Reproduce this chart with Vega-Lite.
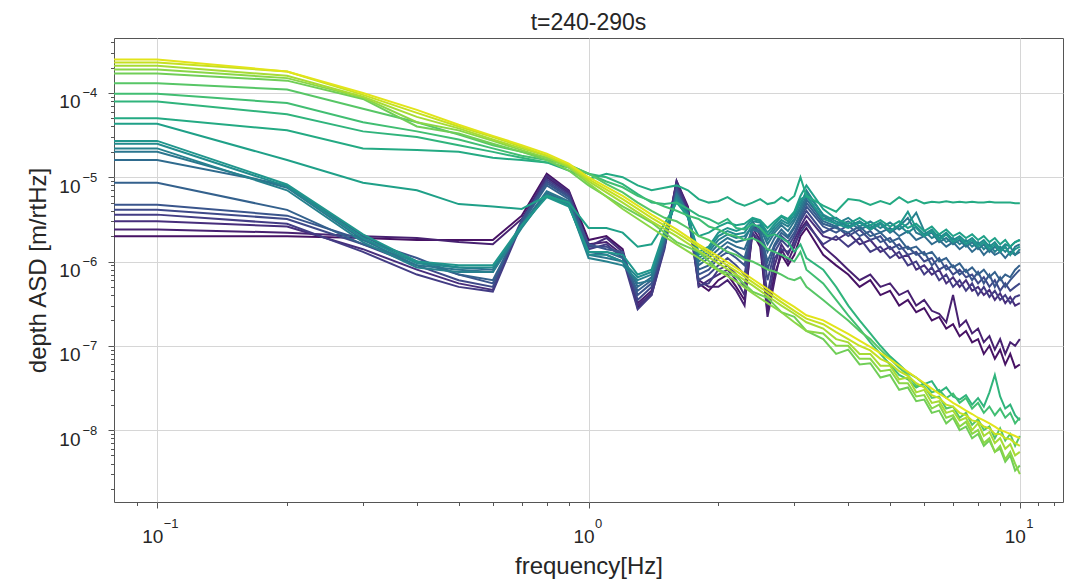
{
"$schema": "https://vega.github.io/schema/vega-lite/v6.json",
"width": 949,
"height": 464,
"autosize": {"type": "none"},
"padding": {"left": 114, "top": 38, "right": 14, "bottom": 84},
"background": "white",
"title": {"text": "t=240-290s", "fontSize": 23, "fontWeight": "normal", "font": "Liberation Sans", "color": "#262626", "offset": -15, "baseline": "alphabetic"},
"config": {"view": {"stroke": "#555555", "strokeWidth": 1}, "font": "Liberation Sans"},
"data": {"values": [
{"s":0,"f":0.0794,"v":2e-6},{"s":0,"f":0.1,"v":2e-6},{"s":0,"f":0.2,"v":2e-6},{"s":0,"f":0.3,"v":1.9e-6},{"s":0,"f":0.4,"v":1.8e-6},{"s":0,"f":0.5,"v":1.8e-6},{"s":0,"f":0.6,"v":1.8e-6},{"s":0,"f":0.7,"v":3.5e-6},{"s":0,"f":0.8,"v":1.1e-5},{"s":0,"f":0.9,"v":7e-6},{"s":0,"f":1,"v":1.8e-6},
{"s":0,"f":1.1,"v":2e-6},{"s":0,"f":1.2,"v":1.4e-6},{"s":0,"f":1.3,"v":2.8e-7},{"s":0,"f":1.4,"v":4e-7},{"s":0,"f":1.5,"v":1.5e-6},{"s":0,"f":1.6,"v":9e-6},{"s":0,"f":1.7,"v":4.5e-6},{"s":0,"f":1.8,"v":5.5e-7},{"s":0,"f":1.9,"v":4.5e-7},{"s":0,"f":2,"v":6e-7},{"s":0,"f":2.1,"v":7e-7},{"s":0,"f":2.2,"v":5e-7},{"s":0,"f":2.3,"v":3.5e-7},{"s":0,"f":2.4,"v":2.2e-6},{"s":0,"f":2.5,"v":1.5e-6},{"s":0,"f":2.6,"v":2.5e-7},{"s":0,"f":2.7,"v":7e-7},{"s":0,"f":2.8,"v":1.2e-6},{"s":0,"f":2.9,"v":9e-7},{"s":0,"f":3,"v":1.2e-6},{"s":0,"f":3.1,"v":2e-6},{"s":0,"f":3.2,"v":2.5e-6},
{"s":0,"f":3.5,"v":1.2e-6},{"s":0,"f":3.75,"v":9e-7},{"s":0,"f":4,"v":7e-7},{"s":0,"f":4.25,"v":5e-7},{"s":0,"f":4.5,"v":6e-7},{"s":0,"f":4.75,"v":4e-7},{"s":0,"f":5,"v":4.5e-7},{"s":0,"f":5.25,"v":3e-7},{"s":0,"f":5.5,"v":3.5e-7},{"s":0,"f":5.75,"v":2.5e-7},{"s":0,"f":6,"v":2.8e-7},{"s":0,"f":6.25,"v":2e-7},{"s":0,"f":6.5,"v":2.2e-7},{"s":0,"f":6.75,"v":1.6e-7},{"s":0,"f":7,"v":1.8e-7},{"s":0,"f":7.25,"v":1.3e-7},{"s":0,"f":7.5,"v":1.5e-7},{"s":0,"f":7.75,"v":1.1e-7},{"s":0,"f":8,"v":1.2e-7},{"s":0,"f":8.25,"v":8e-8},{"s":0,"f":8.5,"v":1e-7},{"s":0,"f":8.75,"v":7e-8},{"s":0,"f":9,"v":9e-8},{"s":0,"f":9.25,"v":6e-8},{"s":0,"f":9.5,"v":8e-8},{"s":0,"f":9.75,"v":5.5e-8},{"s":0,"f":10,"v":6e-8},

{"s":1,"f":0.0794,"v":2.4e-6},{"s":1,"f":0.1,"v":2.4e-6},{"s":1,"f":0.2,"v":2.2e-6},{"s":1,"f":0.3,"v":2e-6},{"s":1,"f":0.4,"v":1.9e-6},{"s":1,"f":0.5,"v":1.7e-6},{"s":1,"f":0.6,"v":1.6e-6},{"s":1,"f":0.7,"v":3.2e-6},{"s":1,"f":0.8,"v":1e-5},{"s":1,"f":0.9,"v":6.5e-6},{"s":1,"f":1,"v":1.6e-6},
{"s":1,"f":1.1,"v":1.7e-6},{"s":1,"f":1.2,"v":1.2e-6},{"s":1,"f":1.3,"v":3.2e-7},{"s":1,"f":1.4,"v":4.5e-7},{"s":1,"f":1.5,"v":1.7e-6},{"s":1,"f":1.6,"v":8.5e-6},{"s":1,"f":1.7,"v":4e-6},{"s":1,"f":1.8,"v":6e-7},{"s":1,"f":1.9,"v":5e-7},{"s":1,"f":2,"v":5e-7},{"s":1,"f":2.1,"v":6e-7},{"s":1,"f":2.2,"v":4.5e-7},{"s":1,"f":2.3,"v":3e-7},{"s":1,"f":2.4,"v":2.5e-6},{"s":1,"f":2.5,"v":1.8e-6},{"s":1,"f":2.6,"v":2.2e-7},{"s":1,"f":2.7,"v":6e-7},{"s":1,"f":2.8,"v":1.4e-6},{"s":1,"f":2.9,"v":1e-6},{"s":1,"f":3,"v":1.5e-6},{"s":1,"f":3.1,"v":2.4e-6},{"s":1,"f":3.2,"v":3e-6},
{"s":1,"f":3.5,"v":1.5e-6},{"s":1,"f":3.75,"v":1.1e-6},{"s":1,"f":4,"v":8e-7},{"s":1,"f":4.25,"v":6e-7},{"s":1,"f":4.5,"v":7e-7},{"s":1,"f":4.75,"v":5e-7},{"s":1,"f":5,"v":5.5e-7},{"s":1,"f":5.25,"v":4e-7},{"s":1,"f":5.5,"v":4.5e-7},{"s":1,"f":5.75,"v":3e-7},{"s":1,"f":6,"v":3.5e-7},{"s":1,"f":6.25,"v":2.6e-7},{"s":1,"f":6.5,"v":2.4e-7},{"s":1,"f":6.75,"v":1.9e-7},{"s":1,"f":7,"v":4e-7},{"s":1,"f":7.25,"v":1.7e-7},{"s":1,"f":7.5,"v":2e-7},{"s":1,"f":7.75,"v":1.4e-7},{"s":1,"f":8,"v":1.6e-7},{"s":1,"f":8.25,"v":1.1e-7},{"s":1,"f":8.5,"v":1.3e-7},{"s":1,"f":8.75,"v":9e-8},{"s":1,"f":9,"v":1.2e-7},{"s":1,"f":9.25,"v":8e-8},{"s":1,"f":9.5,"v":1.1e-7},{"s":1,"f":9.75,"v":1e-7},{"s":1,"f":10,"v":1.2e-7},

{"s":2,"f":0.0794,"v":3e-6},{"s":2,"f":0.1,"v":3e-6},{"s":2,"f":0.2,"v":2.6e-6},{"s":2,"f":0.3,"v":1.4e-6},{"s":2,"f":0.4,"v":8e-7},{"s":2,"f":0.5,"v":5.5e-7},{"s":2,"f":0.6,"v":4.6e-7},{"s":2,"f":0.7,"v":3e-6},{"s":2,"f":0.8,"v":1.05e-5},{"s":2,"f":0.9,"v":6.8e-6},{"s":2,"f":1,"v":1.5e-6},
{"s":2,"f":1.1,"v":1.9e-6},{"s":2,"f":1.2,"v":1.3e-6},{"s":2,"f":1.3,"v":3e-7},{"s":2,"f":1.4,"v":4.2e-7},{"s":2,"f":1.5,"v":1.6e-6},{"s":2,"f":1.6,"v":9e-6},{"s":2,"f":1.7,"v":4.2e-6},{"s":2,"f":1.8,"v":5e-7},{"s":2,"f":1.9,"v":6e-7},{"s":2,"f":2,"v":7e-7},{"s":2,"f":2.1,"v":8e-7},{"s":2,"f":2.2,"v":6e-7},{"s":2,"f":2.3,"v":4e-7},{"s":2,"f":2.4,"v":3e-6},{"s":2,"f":2.5,"v":2e-6},{"s":2,"f":2.6,"v":3e-7},{"s":2,"f":2.7,"v":9e-7},{"s":2,"f":2.8,"v":1.6e-6},{"s":2,"f":2.9,"v":1.2e-6},{"s":2,"f":3,"v":1.8e-6},{"s":2,"f":3.1,"v":2.6e-6},{"s":2,"f":3.2,"v":3.5e-6},
{"s":2,"f":3.5,"v":2e-6},{"s":2,"f":3.75,"v":1.8e-6},{"s":2,"f":4,"v":2.2e-6},{"s":2,"f":4.25,"v":1.6e-6},{"s":2,"f":4.5,"v":1.8e-6},{"s":2,"f":4.75,"v":1.3e-6},{"s":2,"f":5,"v":1.5e-6},{"s":2,"f":5.25,"v":1.1e-6},{"s":2,"f":5.5,"v":1.2e-6},{"s":2,"f":5.75,"v":8e-7},{"s":2,"f":6,"v":9e-7},{"s":2,"f":6.25,"v":7e-7},{"s":2,"f":6.5,"v":8e-7},{"s":2,"f":6.75,"v":5.5e-7},{"s":2,"f":7,"v":6.5e-7},{"s":2,"f":7.25,"v":5e-7},{"s":2,"f":7.5,"v":6e-7},{"s":2,"f":7.75,"v":4.5e-7},{"s":2,"f":8,"v":5e-7},{"s":2,"f":8.25,"v":4e-7},{"s":2,"f":8.5,"v":4.6e-7},{"s":2,"f":8.75,"v":3.5e-7},{"s":2,"f":9,"v":4.2e-7},{"s":2,"f":9.25,"v":3.2e-7},{"s":2,"f":9.5,"v":3.8e-7},{"s":2,"f":9.75,"v":3e-7},{"s":2,"f":10,"v":3.2e-7},

{"s":3,"f":0.0794,"v":3.6e-6},{"s":3,"f":0.1,"v":3.6e-6},{"s":3,"f":0.2,"v":2.8e-6},{"s":3,"f":0.3,"v":1.3e-6},{"s":3,"f":0.4,"v":7e-7},{"s":3,"f":0.5,"v":5e-7},{"s":3,"f":0.6,"v":4.4e-7},{"s":3,"f":0.7,"v":2.8e-6},{"s":3,"f":0.8,"v":9.5e-6},{"s":3,"f":0.9,"v":6.3e-6},{"s":3,"f":1,"v":1.4e-6},
{"s":3,"f":1.1,"v":1.6e-6},{"s":3,"f":1.2,"v":1.1e-6},{"s":3,"f":1.3,"v":2.7e-7},{"s":3,"f":1.4,"v":4e-7},{"s":3,"f":1.5,"v":1.4e-6},{"s":3,"f":1.6,"v":8e-6},{"s":3,"f":1.7,"v":3.8e-6},{"s":3,"f":1.8,"v":5.2e-7},{"s":3,"f":1.9,"v":5.5e-7},{"s":3,"f":2,"v":8e-7},{"s":3,"f":2.1,"v":9e-7},{"s":3,"f":2.2,"v":7e-7},{"s":3,"f":2.3,"v":5e-7},{"s":3,"f":2.4,"v":2.2e-6},{"s":3,"f":2.5,"v":1.7e-6},{"s":3,"f":2.6,"v":4e-7},{"s":3,"f":2.7,"v":1.1e-6},{"s":3,"f":2.8,"v":1.4e-6},{"s":3,"f":2.9,"v":1.3e-6},{"s":3,"f":3,"v":1.6e-6},{"s":3,"f":3.1,"v":2.2e-6},{"s":3,"f":3.2,"v":2.8e-6},
{"s":3,"f":3.5,"v":1.6e-6},{"s":3,"f":3.75,"v":2e-6},{"s":3,"f":4,"v":1.5e-6},{"s":3,"f":4.25,"v":1.9e-6},{"s":3,"f":4.5,"v":1.3e-6},{"s":3,"f":4.75,"v":1.5e-6},{"s":3,"f":5,"v":1.1e-6},{"s":3,"f":5.25,"v":1.3e-6},{"s":3,"f":5.5,"v":9e-7},{"s":3,"f":5.75,"v":1e-6},{"s":3,"f":6,"v":7e-7},{"s":3,"f":6.25,"v":8.5e-7},{"s":3,"f":6.5,"v":6e-7},{"s":3,"f":6.75,"v":7e-7},{"s":3,"f":7,"v":5e-7},{"s":3,"f":7.25,"v":6e-7},{"s":3,"f":7.5,"v":4.5e-7},{"s":3,"f":7.75,"v":5.5e-7},{"s":3,"f":8,"v":4e-7},{"s":3,"f":8.25,"v":5e-7},{"s":3,"f":8.5,"v":3.8e-7},{"s":3,"f":8.75,"v":4.5e-7},{"s":3,"f":9,"v":3.5e-7},{"s":3,"f":9.25,"v":4e-7},{"s":3,"f":9.5,"v":3.2e-7},{"s":3,"f":9.75,"v":3.8e-7},{"s":3,"f":10,"v":4e-7},

{"s":4,"f":0.0794,"v":4.1e-6},{"s":4,"f":0.1,"v":4.1e-6},{"s":4,"f":0.2,"v":3.2e-6},{"s":4,"f":0.3,"v":1.6e-6},{"s":4,"f":0.4,"v":9e-7},{"s":4,"f":0.5,"v":6e-7},{"s":4,"f":0.6,"v":5e-7},{"s":4,"f":0.7,"v":3e-6},{"s":4,"f":0.8,"v":9e-6},{"s":4,"f":0.9,"v":6e-6},{"s":4,"f":1,"v":1.5e-6},
{"s":4,"f":1.1,"v":1.5e-6},{"s":4,"f":1.2,"v":1.2e-6},{"s":4,"f":1.3,"v":3.5e-7},{"s":4,"f":1.4,"v":5e-7},{"s":4,"f":1.5,"v":1.5e-6},{"s":4,"f":1.6,"v":7.5e-6},{"s":4,"f":1.7,"v":3.5e-6},{"s":4,"f":1.8,"v":6e-7},{"s":4,"f":1.9,"v":7e-7},{"s":4,"f":2,"v":9e-7},{"s":4,"f":2.1,"v":1.1e-6},{"s":4,"f":2.2,"v":9e-7},{"s":4,"f":2.3,"v":7e-7},{"s":4,"f":2.4,"v":2.6e-6},{"s":4,"f":2.5,"v":2.2e-6},{"s":4,"f":2.6,"v":6e-7},{"s":4,"f":2.7,"v":1.3e-6},{"s":4,"f":2.8,"v":1.8e-6},{"s":4,"f":2.9,"v":1.5e-6},{"s":4,"f":3,"v":2e-6},{"s":4,"f":3.1,"v":3e-6},{"s":4,"f":3.2,"v":4e-6},
{"s":4,"f":3.5,"v":2.2e-6},{"s":4,"f":3.75,"v":2.6e-6},{"s":4,"f":4,"v":2e-6},{"s":4,"f":4.25,"v":2.4e-6},{"s":4,"f":4.5,"v":1.8e-6},{"s":4,"f":4.75,"v":2e-6},{"s":4,"f":5,"v":1.4e-6},{"s":4,"f":5.25,"v":1.6e-6},{"s":4,"f":5.5,"v":1.2e-6},{"s":4,"f":5.75,"v":1.3e-6},{"s":4,"f":6,"v":1e-6},{"s":4,"f":6.25,"v":1.1e-6},{"s":4,"f":6.5,"v":8e-7},{"s":4,"f":6.75,"v":9e-7},{"s":4,"f":7,"v":7e-7},{"s":4,"f":7.25,"v":8e-7},{"s":4,"f":7.5,"v":6.5e-7},{"s":4,"f":7.75,"v":7e-7},{"s":4,"f":8,"v":5.5e-7},{"s":4,"f":8.25,"v":6.5e-7},{"s":4,"f":8.5,"v":5e-7},{"s":4,"f":8.75,"v":6e-7},{"s":4,"f":9,"v":4.5e-7},{"s":4,"f":9.25,"v":5.5e-7},{"s":4,"f":9.5,"v":4.5e-7},{"s":4,"f":9.75,"v":5e-7},{"s":4,"f":10,"v":5.5e-7},

{"s":5,"f":0.0794,"v":4.7e-6},{"s":5,"f":0.1,"v":4.7e-6},{"s":5,"f":0.2,"v":3.5e-6},{"s":5,"f":0.3,"v":1.8e-6},{"s":5,"f":0.4,"v":1.1e-6},{"s":5,"f":0.5,"v":7e-7},{"s":5,"f":0.6,"v":5.5e-7},{"s":5,"f":0.7,"v":3.1e-6},{"s":5,"f":0.8,"v":8.5e-6},{"s":5,"f":0.9,"v":5.8e-6},{"s":5,"f":1,"v":1.6e-6},
{"s":5,"f":1.1,"v":1.4e-6},{"s":5,"f":1.2,"v":1.3e-6},{"s":5,"f":1.3,"v":4e-7},{"s":5,"f":1.4,"v":5.5e-7},{"s":5,"f":1.5,"v":1.6e-6},{"s":5,"f":1.6,"v":7e-6},{"s":5,"f":1.7,"v":3.6e-6},{"s":5,"f":1.8,"v":7e-7},{"s":5,"f":1.9,"v":8e-7},{"s":5,"f":2,"v":1.1e-6},{"s":5,"f":2.1,"v":1.3e-6},{"s":5,"f":2.2,"v":1.1e-6},{"s":5,"f":2.3,"v":9e-7},{"s":5,"f":2.4,"v":2.8e-6},{"s":5,"f":2.5,"v":2.4e-6},{"s":5,"f":2.6,"v":8e-7},{"s":5,"f":2.7,"v":1.5e-6},{"s":5,"f":2.8,"v":2e-6},{"s":5,"f":2.9,"v":1.7e-6},{"s":5,"f":3,"v":2.2e-6},{"s":5,"f":3.1,"v":3.2e-6},{"s":5,"f":3.2,"v":4.5e-6},
{"s":5,"f":3.5,"v":2.6e-6},{"s":5,"f":3.75,"v":2.2e-6},{"s":5,"f":4,"v":2.7e-6},{"s":5,"f":4.25,"v":2e-6},{"s":5,"f":4.5,"v":2.3e-6},{"s":5,"f":4.75,"v":1.7e-6},{"s":5,"f":5,"v":1.9e-6},{"s":5,"f":5.25,"v":1.4e-6},{"s":5,"f":5.5,"v":1.5e-6},{"s":5,"f":5.75,"v":1.2e-6},{"s":5,"f":6,"v":1.3e-6},{"s":5,"f":6.25,"v":9e-7},{"s":5,"f":6.5,"v":1.1e-6},{"s":5,"f":6.75,"v":8e-7},{"s":5,"f":7,"v":9e-7},{"s":5,"f":7.25,"v":7e-7},{"s":5,"f":7.5,"v":8e-7},{"s":5,"f":7.75,"v":6e-7},{"s":5,"f":8,"v":7.5e-7},{"s":5,"f":8.25,"v":5.5e-7},{"s":5,"f":8.5,"v":7e-7},{"s":5,"f":8.75,"v":5e-7},{"s":5,"f":9,"v":6.5e-7},{"s":5,"f":9.25,"v":5e-7},{"s":5,"f":9.5,"v":6e-7},{"s":5,"f":9.75,"v":7e-7},{"s":5,"f":10,"v":8e-7},

{"s":6,"f":0.0794,"v":8.6e-6},{"s":6,"f":0.1,"v":8.6e-6},{"s":6,"f":0.2,"v":4.1e-6},{"s":6,"f":0.3,"v":1.6e-6},{"s":6,"f":0.4,"v":1e-6},{"s":6,"f":0.5,"v":7e-7},{"s":6,"f":0.6,"v":6e-7},{"s":6,"f":0.7,"v":2.8e-6},{"s":6,"f":0.8,"v":8e-6},{"s":6,"f":0.9,"v":5.5e-6},{"s":6,"f":1,"v":1.3e-6},
{"s":6,"f":1.1,"v":1.2e-6},{"s":6,"f":1.2,"v":1e-6},{"s":6,"f":1.3,"v":4.5e-7},{"s":6,"f":1.4,"v":6e-7},{"s":6,"f":1.5,"v":1.7e-6},{"s":6,"f":1.6,"v":6.5e-6},{"s":6,"f":1.7,"v":3.8e-6},{"s":6,"f":1.8,"v":8e-7},{"s":6,"f":1.9,"v":9e-7},{"s":6,"f":2,"v":1.2e-6},{"s":6,"f":2.1,"v":1.5e-6},{"s":6,"f":2.2,"v":1.3e-6},{"s":6,"f":2.3,"v":1.1e-6},{"s":6,"f":2.4,"v":2.5e-6},{"s":6,"f":2.5,"v":2.3e-6},{"s":6,"f":2.6,"v":1e-6},{"s":6,"f":2.7,"v":1.6e-6},{"s":6,"f":2.8,"v":2.2e-6},{"s":6,"f":2.9,"v":1.9e-6},{"s":6,"f":3,"v":2.5e-6},{"s":6,"f":3.1,"v":3.5e-6},{"s":6,"f":3.2,"v":5e-6},
{"s":6,"f":3.5,"v":2.8e-6},{"s":6,"f":3.75,"v":2.5e-6},{"s":6,"f":4,"v":2.2e-6},{"s":6,"f":4.25,"v":2.6e-6},{"s":6,"f":4.5,"v":2e-6},{"s":6,"f":4.75,"v":2.2e-6},{"s":6,"f":5,"v":1.7e-6},{"s":6,"f":5.25,"v":1.9e-6},{"s":6,"f":5.5,"v":1.4e-6},{"s":6,"f":5.75,"v":1.5e-6},{"s":6,"f":6,"v":1.2e-6},{"s":6,"f":6.25,"v":1.3e-6},{"s":6,"f":6.5,"v":1e-6},{"s":6,"f":6.75,"v":1.1e-6},{"s":6,"f":7,"v":8.5e-7},{"s":6,"f":7.25,"v":9.5e-7},{"s":6,"f":7.5,"v":7.5e-7},{"s":6,"f":7.75,"v":8.5e-7},{"s":6,"f":8,"v":7e-7},{"s":6,"f":8.25,"v":8e-7},{"s":6,"f":8.5,"v":6.5e-7},{"s":6,"f":8.75,"v":7.5e-7},{"s":6,"f":9,"v":6e-7},{"s":6,"f":9.25,"v":7e-7},{"s":6,"f":9.5,"v":6.5e-7},{"s":6,"f":9.75,"v":8e-7},{"s":6,"f":10,"v":9e-7},

{"s":7,"f":0.0794,"v":1.6e-5},{"s":7,"f":0.1,"v":1.6e-5},{"s":7,"f":0.2,"v":8e-6},{"s":7,"f":0.3,"v":2e-6},{"s":7,"f":0.4,"v":1e-6},{"s":7,"f":0.5,"v":8.5e-7},{"s":7,"f":0.6,"v":8e-7},{"s":7,"f":0.7,"v":2.6e-6},{"s":7,"f":0.8,"v":6.5e-6},{"s":7,"f":0.9,"v":5e-6},{"s":7,"f":1,"v":1.3e-6},
{"s":7,"f":1.1,"v":1.3e-6},{"s":7,"f":1.2,"v":1.1e-6},{"s":7,"f":1.3,"v":5e-7},{"s":7,"f":1.4,"v":6.5e-7},{"s":7,"f":1.5,"v":1.8e-6},{"s":7,"f":1.6,"v":6e-6},{"s":7,"f":1.7,"v":3.5e-6},{"s":7,"f":1.8,"v":9e-7},{"s":7,"f":1.9,"v":1.1e-6},{"s":7,"f":2,"v":1.4e-6},{"s":7,"f":2.1,"v":1.7e-6},{"s":7,"f":2.2,"v":1.5e-6},{"s":7,"f":2.3,"v":1.4e-6},{"s":7,"f":2.4,"v":2.4e-6},{"s":7,"f":2.5,"v":2.2e-6},{"s":7,"f":2.6,"v":1.3e-6},{"s":7,"f":2.7,"v":1.9e-6},{"s":7,"f":2.8,"v":2.4e-6},{"s":7,"f":2.9,"v":2e-6},{"s":7,"f":3,"v":2.6e-6},{"s":7,"f":3.1,"v":3.8e-6},{"s":7,"f":3.2,"v":5.5e-6},
{"s":7,"f":3.5,"v":3e-6},{"s":7,"f":3.75,"v":2.6e-6},{"s":7,"f":4,"v":3e-6},{"s":7,"f":4.25,"v":2.4e-6},{"s":7,"f":4.5,"v":2.7e-6},{"s":7,"f":4.75,"v":2.2e-6},{"s":7,"f":5,"v":2.5e-6},{"s":7,"f":5.25,"v":2e-6},{"s":7,"f":5.5,"v":2.3e-6},{"s":7,"f":5.75,"v":1.8e-6},{"s":7,"f":6,"v":2e-6},{"s":7,"f":6.25,"v":1.6e-6},{"s":7,"f":6.5,"v":1.8e-6},{"s":7,"f":6.75,"v":1.5e-6},{"s":7,"f":7,"v":1.7e-6},{"s":7,"f":7.25,"v":1.4e-6},{"s":7,"f":7.5,"v":1.6e-6},{"s":7,"f":7.75,"v":1.3e-6},{"s":7,"f":8,"v":1.5e-6},{"s":7,"f":8.25,"v":1.2e-6},{"s":7,"f":8.5,"v":1.4e-6},{"s":7,"f":8.75,"v":1.2e-6},{"s":7,"f":9,"v":1.3e-6},{"s":7,"f":9.25,"v":1.1e-6},{"s":7,"f":9.5,"v":1.3e-6},{"s":7,"f":9.75,"v":1.2e-6},{"s":7,"f":10,"v":1.3e-6},

{"s":8,"f":0.0794,"v":2e-5},{"s":8,"f":0.1,"v":2e-5},{"s":8,"f":0.2,"v":7.5e-6},{"s":8,"f":0.3,"v":1.8e-6},{"s":8,"f":0.4,"v":9e-7},{"s":8,"f":0.5,"v":8e-7},{"s":8,"f":0.6,"v":7.5e-7},{"s":8,"f":0.7,"v":2.7e-6},{"s":8,"f":0.8,"v":6.8e-6},{"s":8,"f":0.9,"v":5.2e-6},{"s":8,"f":1,"v":1.2e-6},
{"s":8,"f":1.1,"v":1.1e-6},{"s":8,"f":1.2,"v":1e-6},{"s":8,"f":1.3,"v":5.5e-7},{"s":8,"f":1.4,"v":6e-7},{"s":8,"f":1.5,"v":1.9e-6},{"s":8,"f":1.6,"v":6.3e-6},{"s":8,"f":1.7,"v":3.8e-6},{"s":8,"f":1.8,"v":1e-6},{"s":8,"f":1.9,"v":1.2e-6},{"s":8,"f":2,"v":1.6e-6},{"s":8,"f":2.1,"v":1.9e-6},{"s":8,"f":2.2,"v":1.7e-6},{"s":8,"f":2.3,"v":1.8e-6},{"s":8,"f":2.4,"v":2.8e-6},{"s":8,"f":2.5,"v":2.5e-6},{"s":8,"f":2.6,"v":1.6e-6},{"s":8,"f":2.7,"v":2.2e-6},{"s":8,"f":2.8,"v":2.7e-6},{"s":8,"f":2.9,"v":2.3e-6},{"s":8,"f":3,"v":3e-6},{"s":8,"f":3.1,"v":4.2e-6},{"s":8,"f":3.2,"v":6e-6},
{"s":8,"f":3.5,"v":3.2e-6},{"s":8,"f":3.75,"v":3.3e-6},{"s":8,"f":4,"v":2.6e-6},{"s":8,"f":4.25,"v":3e-6},{"s":8,"f":4.5,"v":2.4e-6},{"s":8,"f":4.75,"v":2.8e-6},{"s":8,"f":5,"v":2.2e-6},{"s":8,"f":5.25,"v":2.6e-6},{"s":8,"f":5.5,"v":3.3e-6},{"s":8,"f":5.75,"v":2.2e-6},{"s":8,"f":6,"v":2e-6},{"s":8,"f":6.25,"v":2.2e-6},{"s":8,"f":6.5,"v":1.7e-6},{"s":8,"f":6.75,"v":1.9e-6},{"s":8,"f":7,"v":1.6e-6},{"s":8,"f":7.25,"v":1.8e-6},{"s":8,"f":7.5,"v":1.5e-6},{"s":8,"f":7.75,"v":1.7e-6},{"s":8,"f":8,"v":1.4e-6},{"s":8,"f":8.25,"v":1.6e-6},{"s":8,"f":8.5,"v":1.3e-6},{"s":8,"f":8.75,"v":1.5e-6},{"s":8,"f":9,"v":1.3e-6},{"s":8,"f":9.25,"v":1.5e-6},{"s":8,"f":9.5,"v":1.2e-6},{"s":8,"f":9.75,"v":1.5e-6},{"s":8,"f":10,"v":1.6e-6},

{"s":9,"f":0.0794,"v":2.2e-5},{"s":9,"f":0.1,"v":2.2e-5},{"s":9,"f":0.2,"v":7e-6},{"s":9,"f":0.3,"v":1.7e-6},{"s":9,"f":0.4,"v":8.5e-7},{"s":9,"f":0.5,"v":7.5e-7},{"s":9,"f":0.6,"v":7.5e-7},{"s":9,"f":0.7,"v":2.5e-6},{"s":9,"f":0.8,"v":6.2e-6},{"s":9,"f":0.9,"v":4.8e-6},{"s":9,"f":1,"v":1.1e-6},
{"s":9,"f":1.1,"v":1e-6},{"s":9,"f":1.2,"v":9e-7},{"s":9,"f":1.3,"v":6e-7},{"s":9,"f":1.4,"v":7e-7},{"s":9,"f":1.5,"v":2e-6},{"s":9,"f":1.6,"v":5.8e-6},{"s":9,"f":1.7,"v":3.6e-6},{"s":9,"f":1.8,"v":1.1e-6},{"s":9,"f":1.9,"v":1.3e-6},{"s":9,"f":2,"v":1.8e-6},{"s":9,"f":2.1,"v":2.1e-6},{"s":9,"f":2.2,"v":1.9e-6},{"s":9,"f":2.3,"v":2e-6},{"s":9,"f":2.4,"v":2.6e-6},{"s":9,"f":2.5,"v":2.7e-6},{"s":9,"f":2.6,"v":1.8e-6},{"s":9,"f":2.7,"v":2.4e-6},{"s":9,"f":2.8,"v":2.9e-6},{"s":9,"f":2.9,"v":2.6e-6},{"s":9,"f":3,"v":3.2e-6},{"s":9,"f":3.1,"v":4.5e-6},{"s":9,"f":3.2,"v":7e-6},
{"s":9,"f":3.5,"v":3.5e-6},{"s":9,"f":3.75,"v":2.8e-6},{"s":9,"f":4,"v":3.3e-6},{"s":9,"f":4.25,"v":2.6e-6},{"s":9,"f":4.5,"v":3e-6},{"s":9,"f":4.75,"v":2.5e-6},{"s":9,"f":5,"v":2.9e-6},{"s":9,"f":5.25,"v":2.4e-6},{"s":9,"f":5.5,"v":2.8e-6},{"s":9,"f":5.75,"v":3.8e-6},{"s":9,"f":6,"v":2.3e-6},{"s":9,"f":6.25,"v":1.9e-6},{"s":9,"f":6.5,"v":2.1e-6},{"s":9,"f":6.75,"v":1.7e-6},{"s":9,"f":7,"v":1.9e-6},{"s":9,"f":7.25,"v":1.6e-6},{"s":9,"f":7.5,"v":1.8e-6},{"s":9,"f":7.75,"v":1.5e-6},{"s":9,"f":8,"v":1.7e-6},{"s":9,"f":8.25,"v":1.4e-6},{"s":9,"f":8.5,"v":1.6e-6},{"s":9,"f":8.75,"v":1.3e-6},{"s":9,"f":9,"v":1.5e-6},{"s":9,"f":9.25,"v":1.3e-6},{"s":9,"f":9.5,"v":1.5e-6},{"s":9,"f":9.75,"v":1.2e-6},{"s":9,"f":10,"v":1.4e-6},

{"s":10,"f":0.0794,"v":2.5e-5},{"s":10,"f":0.1,"v":2.5e-5},{"s":10,"f":0.2,"v":7.8e-6},{"s":10,"f":0.3,"v":1.9e-6},{"s":10,"f":0.4,"v":9.5e-7},{"s":10,"f":0.5,"v":8.5e-7},{"s":10,"f":0.6,"v":8.5e-7},{"s":10,"f":0.7,"v":2.6e-6},{"s":10,"f":0.8,"v":6e-6},{"s":10,"f":0.9,"v":4.6e-6},{"s":10,"f":1,"v":1.2e-6},
{"s":10,"f":1.1,"v":1.2e-6},{"s":10,"f":1.2,"v":1e-6},{"s":10,"f":1.3,"v":6.5e-7},{"s":10,"f":1.4,"v":7.5e-7},{"s":10,"f":1.5,"v":2.1e-6},{"s":10,"f":1.6,"v":5.5e-6},{"s":10,"f":1.7,"v":3.4e-6},{"s":10,"f":1.8,"v":1.2e-6},{"s":10,"f":1.9,"v":1.4e-6},{"s":10,"f":2,"v":2e-6},{"s":10,"f":2.1,"v":2.3e-6},{"s":10,"f":2.2,"v":2.1e-6},{"s":10,"f":2.3,"v":2.2e-6},{"s":10,"f":2.4,"v":3e-6},{"s":10,"f":2.5,"v":2.9e-6},{"s":10,"f":2.6,"v":2e-6},{"s":10,"f":2.7,"v":2.6e-6},{"s":10,"f":2.8,"v":3.1e-6},{"s":10,"f":2.9,"v":2.8e-6},{"s":10,"f":3,"v":3.5e-6},{"s":10,"f":3.1,"v":5e-6},{"s":10,"f":3.2,"v":6.5e-6},
{"s":10,"f":3.5,"v":3.6e-6},{"s":10,"f":3.75,"v":3e-6},{"s":10,"f":4,"v":2.6e-6},{"s":10,"f":4.25,"v":3e-6},{"s":10,"f":4.5,"v":2.5e-6},{"s":10,"f":4.75,"v":2.9e-6},{"s":10,"f":5,"v":2.3e-6},{"s":10,"f":5.25,"v":2.7e-6},{"s":10,"f":5.5,"v":2.2e-6},{"s":10,"f":5.75,"v":2.6e-6},{"s":10,"f":6,"v":2.1e-6},{"s":10,"f":6.25,"v":2.4e-6},{"s":10,"f":6.5,"v":1.9e-6},{"s":10,"f":6.75,"v":2.2e-6},{"s":10,"f":7,"v":1.8e-6},{"s":10,"f":7.25,"v":2e-6},{"s":10,"f":7.5,"v":1.7e-6},{"s":10,"f":7.75,"v":1.9e-6},{"s":10,"f":8,"v":1.6e-6},{"s":10,"f":8.25,"v":1.8e-6},{"s":10,"f":8.5,"v":1.5e-6},{"s":10,"f":8.75,"v":1.7e-6},{"s":10,"f":9,"v":1.4e-6},{"s":10,"f":9.25,"v":1.6e-6},{"s":10,"f":9.5,"v":1.5e-6},{"s":10,"f":9.75,"v":1.7e-6},{"s":10,"f":10,"v":1.8e-6},

{"s":11,"f":0.0794,"v":2.7e-5},{"s":11,"f":0.1,"v":2.7e-5},{"s":11,"f":0.2,"v":8.2e-6},{"s":11,"f":0.3,"v":2.1e-6},{"s":11,"f":0.4,"v":1e-6},{"s":11,"f":0.5,"v":9e-7},{"s":11,"f":0.6,"v":9e-7},{"s":11,"f":0.7,"v":2.7e-6},{"s":11,"f":0.8,"v":5.8e-6},{"s":11,"f":0.9,"v":4.5e-6},{"s":11,"f":1,"v":1.3e-6},
{"s":11,"f":1.1,"v":1.3e-6},{"s":11,"f":1.2,"v":1.2e-6},{"s":11,"f":1.3,"v":7e-7},{"s":11,"f":1.4,"v":8e-7},{"s":11,"f":1.5,"v":2.3e-6},{"s":11,"f":1.6,"v":5.2e-6},{"s":11,"f":1.7,"v":3.3e-6},{"s":11,"f":1.8,"v":1.3e-6},{"s":11,"f":1.9,"v":1.5e-6},{"s":11,"f":2,"v":2.2e-6},{"s":11,"f":2.1,"v":2.5e-6},{"s":11,"f":2.2,"v":2.3e-6},{"s":11,"f":2.3,"v":2.5e-6},{"s":11,"f":2.4,"v":3.2e-6},{"s":11,"f":2.5,"v":3e-6},{"s":11,"f":2.6,"v":2.2e-6},{"s":11,"f":2.7,"v":2.8e-6},{"s":11,"f":2.8,"v":3.4e-6},{"s":11,"f":2.9,"v":3e-6},{"s":11,"f":3,"v":3.8e-6},{"s":11,"f":3.1,"v":5.5e-6},{"s":11,"f":3.2,"v":6e-6},
{"s":11,"f":3.5,"v":3.2e-6},{"s":11,"f":3.75,"v":2.8e-6},{"s":11,"f":4,"v":2.5e-6},{"s":11,"f":4.25,"v":2.9e-6},{"s":11,"f":4.5,"v":2.4e-6},{"s":11,"f":4.75,"v":2.8e-6},{"s":11,"f":5,"v":2.3e-6},{"s":11,"f":5.25,"v":2.7e-6},{"s":11,"f":5.5,"v":3.9e-6},{"s":11,"f":5.75,"v":2.5e-6},{"s":11,"f":6,"v":2e-6},{"s":11,"f":6.25,"v":2.3e-6},{"s":11,"f":6.5,"v":1.8e-6},{"s":11,"f":6.75,"v":2.1e-6},{"s":11,"f":7,"v":1.7e-6},{"s":11,"f":7.25,"v":1.9e-6},{"s":11,"f":7.5,"v":1.6e-6},{"s":11,"f":7.75,"v":1.8e-6},{"s":11,"f":8,"v":1.5e-6},{"s":11,"f":8.25,"v":1.7e-6},{"s":11,"f":8.5,"v":1.4e-6},{"s":11,"f":8.75,"v":1.6e-6},{"s":11,"f":9,"v":1.3e-6},{"s":11,"f":9.25,"v":1.5e-6},{"s":11,"f":9.5,"v":1.2e-6},{"s":11,"f":9.75,"v":1.4e-6},{"s":11,"f":10,"v":1.5e-6},

{"s":12,"f":0.0794,"v":4.3e-5},{"s":12,"f":0.1,"v":4.3e-5},{"s":12,"f":0.2,"v":1.6e-5},{"s":12,"f":0.3,"v":8.6e-6},{"s":12,"f":0.4,"v":7e-6},{"s":12,"f":0.5,"v":4.8e-6},{"s":12,"f":0.6,"v":4.5e-6},{"s":12,"f":0.7,"v":4.2e-6},{"s":12,"f":0.8,"v":6e-6},{"s":12,"f":0.9,"v":5e-6},{"s":12,"f":1,"v":2.5e-6},
{"s":12,"f":1.1,"v":2.5e-6},{"s":12,"f":1.2,"v":2.2e-6},{"s":12,"f":1.3,"v":1.5e-6},{"s":12,"f":1.4,"v":1.6e-6},{"s":12,"f":1.5,"v":2.8e-6},{"s":12,"f":1.6,"v":5e-6},{"s":12,"f":1.7,"v":3.5e-6},{"s":12,"f":1.8,"v":2e-6},{"s":12,"f":1.9,"v":2.2e-6},{"s":12,"f":2,"v":2.6e-6},{"s":12,"f":2.1,"v":2.9e-6},{"s":12,"f":2.2,"v":2.7e-6},{"s":12,"f":2.3,"v":2.8e-6},{"s":12,"f":2.4,"v":3.3e-6},{"s":12,"f":2.5,"v":3.1e-6},{"s":12,"f":2.6,"v":2.5e-6},{"s":12,"f":2.7,"v":3e-6},{"s":12,"f":2.8,"v":3.5e-6},{"s":12,"f":2.9,"v":3.2e-6},{"s":12,"f":3,"v":3.9e-6},{"s":12,"f":3.1,"v":6e-6},{"s":12,"f":3.2,"v":8e-6},
{"s":12,"f":3.5,"v":4.2e-6},{"s":12,"f":3.75,"v":3.2e-6},{"s":12,"f":4,"v":2.8e-6},{"s":12,"f":4.25,"v":3.3e-6},{"s":12,"f":4.5,"v":2.7e-6},{"s":12,"f":4.75,"v":3.1e-6},{"s":12,"f":5,"v":2.6e-6},{"s":12,"f":5.25,"v":3e-6},{"s":12,"f":5.5,"v":2.5e-6},{"s":12,"f":5.75,"v":2.8e-6},{"s":12,"f":6,"v":2.3e-6},{"s":12,"f":6.25,"v":2.6e-6},{"s":12,"f":6.5,"v":2.1e-6},{"s":12,"f":6.75,"v":2.4e-6},{"s":12,"f":7,"v":2e-6},{"s":12,"f":7.25,"v":2.2e-6},{"s":12,"f":7.5,"v":1.9e-6},{"s":12,"f":7.75,"v":2.1e-6},{"s":12,"f":8,"v":1.8e-6},{"s":12,"f":8.25,"v":2e-6},{"s":12,"f":8.5,"v":1.7e-6},{"s":12,"f":8.75,"v":1.9e-6},{"s":12,"f":9,"v":1.6e-6},{"s":12,"f":9.25,"v":1.8e-6},{"s":12,"f":9.5,"v":1.5e-6},{"s":12,"f":9.75,"v":1.7e-6},{"s":12,"f":10,"v":1.8e-6},

{"s":13,"f":0.0794,"v":5e-5},{"s":13,"f":0.1,"v":5e-5},{"s":13,"f":0.2,"v":3.6e-5},{"s":13,"f":0.3,"v":2.2e-5},{"s":13,"f":0.4,"v":2.1e-5},{"s":13,"f":0.5,"v":2e-5},{"s":13,"f":0.6,"v":1.7e-5},{"s":13,"f":0.7,"v":1.6e-5},{"s":13,"f":0.8,"v":1.5e-5},{"s":13,"f":0.9,"v":1.2e-5},{"s":13,"f":1,"v":9.5e-6},
{"s":13,"f":1.1,"v":1.1e-5},{"s":13,"f":1.2,"v":1e-5},{"s":13,"f":1.3,"v":8e-6},{"s":13,"f":1.4,"v":7e-6},{"s":13,"f":1.5,"v":7.5e-6},{"s":13,"f":1.6,"v":8e-6},{"s":13,"f":1.7,"v":7e-6},{"s":13,"f":1.8,"v":5.5e-6},{"s":13,"f":1.9,"v":5e-6},{"s":13,"f":2,"v":5.2e-6},{"s":13,"f":2.1,"v":5.8e-6},{"s":13,"f":2.2,"v":5e-6},{"s":13,"f":2.3,"v":4.6e-6},{"s":13,"f":2.4,"v":5e-6},{"s":13,"f":2.5,"v":5.5e-6},{"s":13,"f":2.6,"v":4.8e-6},{"s":13,"f":2.7,"v":5e-6},{"s":13,"f":2.8,"v":5.8e-6},{"s":13,"f":2.9,"v":5.2e-6},{"s":13,"f":3,"v":6e-6},{"s":13,"f":3.1,"v":1e-5},{"s":13,"f":3.2,"v":6e-6},
{"s":13,"f":3.5,"v":4.6e-6},{"s":13,"f":3.75,"v":3.9e-6},{"s":13,"f":4,"v":5.5e-6},{"s":13,"f":4.25,"v":5.3e-6},{"s":13,"f":4.5,"v":4.7e-6},{"s":13,"f":4.75,"v":5.2e-6},{"s":13,"f":5,"v":4.8e-6},{"s":13,"f":5.25,"v":5.8e-6},{"s":13,"f":5.5,"v":5e-6},{"s":13,"f":5.75,"v":5.4e-6},{"s":13,"f":6,"v":4.9e-6},{"s":13,"f":6.25,"v":5.1e-6},{"s":13,"f":6.5,"v":5e-6},{"s":13,"f":6.75,"v":5.2e-6},{"s":13,"f":7,"v":5e-6},{"s":13,"f":7.25,"v":5.1e-6},{"s":13,"f":7.5,"v":5e-6},{"s":13,"f":7.75,"v":5.1e-6},{"s":13,"f":8,"v":5e-6},{"s":13,"f":8.25,"v":5e-6},{"s":13,"f":8.5,"v":5.1e-6},{"s":13,"f":8.75,"v":5e-6},{"s":13,"f":9,"v":5e-6},{"s":13,"f":9.25,"v":5e-6},{"s":13,"f":9.5,"v":5e-6},{"s":13,"f":9.75,"v":4.9e-6},{"s":13,"f":10,"v":4.9e-6},

{"s":14,"f":0.0794,"v":7.9e-5},{"s":14,"f":0.1,"v":7.9e-5},{"s":14,"f":0.2,"v":5.6e-5},{"s":14,"f":0.3,"v":3.5e-5},{"s":14,"f":0.4,"v":3e-5},{"s":14,"f":0.5,"v":2.4e-5},{"s":14,"f":0.6,"v":2e-5},{"s":14,"f":0.7,"v":1.7e-5},{"s":14,"f":0.8,"v":1.5e-5},{"s":14,"f":0.9,"v":1.3e-5},{"s":14,"f":1,"v":1.1e-5},
{"s":14,"f":1.1,"v":1e-5},{"s":14,"f":1.2,"v":8.3e-6},{"s":14,"f":1.3,"v":6.3e-6},{"s":14,"f":1.4,"v":5e-6},{"s":14,"f":1.5,"v":4.8e-6},{"s":14,"f":1.6,"v":5e-6},{"s":14,"f":1.7,"v":4.2e-6},{"s":14,"f":1.8,"v":3.5e-6},{"s":14,"f":1.9,"v":3.2e-6},{"s":14,"f":2,"v":2.8e-6},{"s":14,"f":2.1,"v":3.2e-6},{"s":14,"f":2.2,"v":2.5e-6},{"s":14,"f":2.3,"v":2.4e-6},{"s":14,"f":2.4,"v":2.8e-6},{"s":14,"f":2.5,"v":2.5e-6},{"s":14,"f":2.6,"v":2e-6},{"s":14,"f":2.7,"v":2.1e-6},{"s":14,"f":2.8,"v":1.9e-6},{"s":14,"f":2.9,"v":1.7e-6},{"s":14,"f":3,"v":1.3e-6},{"s":14,"f":3.1,"v":1.6e-6},{"s":14,"f":3.2,"v":1.1e-6},
{"s":14,"f":3.5,"v":8e-7},{"s":14,"f":3.75,"v":5e-7},{"s":14,"f":4,"v":3e-7},{"s":14,"f":4.25,"v":2e-7},{"s":14,"f":4.5,"v":1.4e-7},{"s":14,"f":4.75,"v":1e-7},{"s":14,"f":5,"v":7.5e-8},{"s":14,"f":5.25,"v":6e-8},{"s":14,"f":5.5,"v":4.8e-8},{"s":14,"f":5.75,"v":4.2e-8},{"s":14,"f":6,"v":3.5e-8},{"s":14,"f":6.25,"v":3.8e-8},{"s":14,"f":6.5,"v":2.8e-8},{"s":14,"f":6.75,"v":3.2e-8},{"s":14,"f":7,"v":2.5e-8},{"s":14,"f":7.25,"v":2.3e-8},{"s":14,"f":7.5,"v":2.6e-8},{"s":14,"f":7.75,"v":2e-8},{"s":14,"f":8,"v":2.4e-8},{"s":14,"f":8.25,"v":1.9e-8},{"s":14,"f":8.5,"v":2.8e-8},{"s":14,"f":8.75,"v":4.5e-8},{"s":14,"f":9,"v":2.5e-8},{"s":14,"f":9.25,"v":1.8e-8},{"s":14,"f":9.5,"v":2e-8},{"s":14,"f":9.75,"v":1.5e-8},{"s":14,"f":10,"v":1.3e-8},

{"s":15,"f":0.0794,"v":9.8e-5},{"s":15,"f":0.1,"v":9.8e-5},{"s":15,"f":0.2,"v":7.6e-5},{"s":15,"f":0.3,"v":4.5e-5},{"s":15,"f":0.4,"v":3.5e-5},{"s":15,"f":0.5,"v":2.8e-5},{"s":15,"f":0.6,"v":2.2e-5},{"s":15,"f":0.7,"v":1.8e-5},{"s":15,"f":0.8,"v":1.6e-5},{"s":15,"f":0.9,"v":1.4e-5},{"s":15,"f":1,"v":1.1e-5},
{"s":15,"f":1.1,"v":8.9e-6},{"s":15,"f":1.2,"v":7.6e-6},{"s":15,"f":1.3,"v":6e-6},{"s":15,"f":1.4,"v":5.2e-6},{"s":15,"f":1.5,"v":4.5e-6},{"s":15,"f":1.6,"v":4e-6},{"s":15,"f":1.7,"v":3.5e-6},{"s":15,"f":1.8,"v":3.2e-6},{"s":15,"f":1.9,"v":2.6e-6},{"s":15,"f":2,"v":2.4e-6},{"s":15,"f":2.1,"v":2.1e-6},{"s":15,"f":2.2,"v":2e-6},{"s":15,"f":2.3,"v":1.8e-6},{"s":15,"f":2.4,"v":1.9e-6},{"s":15,"f":2.5,"v":1.7e-6},{"s":15,"f":2.6,"v":1.4e-6},{"s":15,"f":2.7,"v":1.3e-6},{"s":15,"f":2.8,"v":1.2e-6},{"s":15,"f":2.9,"v":1.1e-6},{"s":15,"f":3,"v":1e-6},{"s":15,"f":3.1,"v":1.3e-6},{"s":15,"f":3.2,"v":8e-7},
{"s":15,"f":3.5,"v":5.5e-7},{"s":15,"f":3.75,"v":3.5e-7},{"s":15,"f":4,"v":2.3e-7},{"s":15,"f":4.25,"v":1.6e-7},{"s":15,"f":4.5,"v":1.1e-7},{"s":15,"f":4.75,"v":8e-8},{"s":15,"f":5,"v":6e-8},{"s":15,"f":5.25,"v":4.5e-8},{"s":15,"f":5.5,"v":4e-8},{"s":15,"f":5.75,"v":3.2e-8},{"s":15,"f":6,"v":3.6e-8},{"s":15,"f":6.25,"v":2.8e-8},{"s":15,"f":6.5,"v":3e-8},{"s":15,"f":6.75,"v":2.4e-8},{"s":15,"f":7,"v":2.7e-8},{"s":15,"f":7.25,"v":2.1e-8},{"s":15,"f":7.5,"v":2.4e-8},{"s":15,"f":7.75,"v":1.8e-8},{"s":15,"f":8,"v":2.1e-8},{"s":15,"f":8.25,"v":1.6e-8},{"s":15,"f":8.5,"v":1.9e-8},{"s":15,"f":8.75,"v":1.5e-8},{"s":15,"f":9,"v":1.8e-8},{"s":15,"f":9.25,"v":1.4e-8},{"s":15,"f":9.5,"v":1.6e-8},{"s":15,"f":9.75,"v":1.2e-8},{"s":15,"f":10,"v":1.4e-8},

{"s":16,"f":0.0794,"v":1.3e-4},{"s":16,"f":0.1,"v":1.3e-4},{"s":16,"f":0.2,"v":1.1e-4},{"s":16,"f":0.3,"v":6.5e-5},{"s":16,"f":0.4,"v":4.5e-5},{"s":16,"f":0.5,"v":3.2e-5},{"s":16,"f":0.6,"v":2.4e-5},{"s":16,"f":0.7,"v":2e-5},{"s":16,"f":0.8,"v":1.7e-5},{"s":16,"f":0.9,"v":1.4e-5},{"s":16,"f":1,"v":1.1e-5},
{"s":16,"f":1.1,"v":8.3e-6},{"s":16,"f":1.2,"v":6.6e-6},{"s":16,"f":1.3,"v":5e-6},{"s":16,"f":1.4,"v":4e-6},{"s":16,"f":1.5,"v":3.3e-6},{"s":16,"f":1.6,"v":3e-6},{"s":16,"f":1.7,"v":2.5e-6},{"s":16,"f":1.8,"v":2e-6},{"s":16,"f":1.9,"v":1.8e-6},{"s":16,"f":2,"v":1.5e-6},{"s":16,"f":2.1,"v":1.3e-6},{"s":16,"f":2.2,"v":1.2e-6},{"s":16,"f":2.3,"v":1.05e-6},{"s":16,"f":2.4,"v":1e-6},{"s":16,"f":2.5,"v":9e-7},{"s":16,"f":2.6,"v":8e-7},{"s":16,"f":2.7,"v":7.6e-7},{"s":16,"f":2.8,"v":7e-7},{"s":16,"f":2.9,"v":6.3e-7},{"s":16,"f":3,"v":6e-7},{"s":16,"f":3.1,"v":6.5e-7},{"s":16,"f":3.2,"v":5e-7},
{"s":16,"f":3.5,"v":3.5e-7},{"s":16,"f":3.75,"v":2.6e-7},{"s":16,"f":4,"v":2e-7},{"s":16,"f":4.25,"v":1.5e-7},{"s":16,"f":4.5,"v":1.2e-7},{"s":16,"f":4.75,"v":9e-8},{"s":16,"f":5,"v":7e-8},{"s":16,"f":5.25,"v":5.5e-8},{"s":16,"f":5.5,"v":4.5e-8},{"s":16,"f":5.75,"v":3.4e-8},{"s":16,"f":6,"v":3.3e-8},{"s":16,"f":6.25,"v":2.4e-8},{"s":16,"f":6.5,"v":2.5e-8},{"s":16,"f":6.75,"v":1.8e-8},{"s":16,"f":7,"v":1.9e-8},{"s":16,"f":7.25,"v":1.4e-8},{"s":16,"f":7.5,"v":1.6e-8},{"s":16,"f":7.75,"v":1.15e-8},{"s":16,"f":8,"v":1.35e-8},{"s":16,"f":8.25,"v":1e-8},{"s":16,"f":8.5,"v":1.1e-8},{"s":16,"f":8.75,"v":8e-9},{"s":16,"f":9,"v":1.05e-8},{"s":16,"f":9.25,"v":7.5e-9},{"s":16,"f":9.5,"v":9e-9},{"s":16,"f":9.75,"v":6.5e-9},{"s":16,"f":10,"v":8.5e-9},

{"s":17,"f":0.0794,"v":1.7e-4},{"s":17,"f":0.1,"v":1.7e-4},{"s":17,"f":0.2,"v":1.4e-4},{"s":17,"f":0.3,"v":8.5e-5},{"s":17,"f":0.4,"v":4e-5},{"s":17,"f":0.5,"v":3.3e-5},{"s":17,"f":0.6,"v":2.5e-5},{"s":17,"f":0.7,"v":2e-5},{"s":17,"f":0.8,"v":1.6e-5},{"s":17,"f":0.9,"v":1.2e-5},{"s":17,"f":1,"v":8e-6},
{"s":17,"f":1.2,"v":4.5e-6},{"s":17,"f":1.4,"v":2.9e-6},{"s":17,"f":1.6,"v":1.7e-6},{"s":17,"f":1.8,"v":1.3e-6},{"s":17,"f":2,"v":8e-7},{"s":17,"f":2.2,"v":6.6e-7},{"s":17,"f":2.4,"v":4.4e-7},{"s":17,"f":2.6,"v":3.7e-7},{"s":17,"f":2.8,"v":2.5e-7},{"s":17,"f":3,"v":2.2e-7},{"s":17,"f":3.2,"v":1.5e-7},
{"s":17,"f":3.5,"v":1.2e-7},{"s":17,"f":3.75,"v":8e-8},{"s":17,"f":4,"v":9e-8},{"s":17,"f":4.25,"v":6e-8},{"s":17,"f":4.5,"v":6.2e-8},{"s":17,"f":4.75,"v":4.2e-8},{"s":17,"f":5,"v":4.5e-8},{"s":17,"f":5.25,"v":3e-8},{"s":17,"f":5.5,"v":3.2e-8},{"s":17,"f":5.75,"v":2.2e-8},{"s":17,"f":6,"v":2.3e-8},{"s":17,"f":6.25,"v":1.6e-8},{"s":17,"f":6.5,"v":1.7e-8},{"s":17,"f":6.75,"v":1.2e-8},{"s":17,"f":7,"v":1.4e-8},{"s":17,"f":7.25,"v":1e-8},{"s":17,"f":7.5,"v":1.1e-8},{"s":17,"f":7.75,"v":8e-9},{"s":17,"f":8,"v":9e-9},{"s":17,"f":8.25,"v":6.5e-9},{"s":17,"f":8.5,"v":7.5e-9},{"s":17,"f":8.75,"v":5.5e-9},{"s":17,"f":9,"v":6e-9},{"s":17,"f":9.25,"v":4.2e-9},{"s":17,"f":9.5,"v":5e-9},{"s":17,"f":9.75,"v":3.3e-9},{"s":17,"f":10,"v":3.8e-9},

{"s":18,"f":0.0794,"v":1.9e-4},{"s":18,"f":0.1,"v":1.9e-4},{"s":18,"f":0.2,"v":1.5e-4},{"s":18,"f":0.3,"v":8.8e-5},{"s":18,"f":0.4,"v":4.5e-5},{"s":18,"f":0.5,"v":3.6e-5},{"s":18,"f":0.6,"v":2.7e-5},{"s":18,"f":0.7,"v":2.1e-5},{"s":18,"f":0.8,"v":1.7e-5},{"s":18,"f":0.9,"v":1.3e-5},{"s":18,"f":1,"v":8.5e-6},
{"s":18,"f":1.2,"v":4.2e-6},{"s":18,"f":1.4,"v":2.5e-6},{"s":18,"f":1.6,"v":1.6e-6},{"s":18,"f":1.8,"v":1.1e-6},{"s":18,"f":2,"v":7.8e-7},{"s":18,"f":2.2,"v":5.8e-7},{"s":18,"f":2.4,"v":4.2e-7},{"s":18,"f":2.6,"v":3.2e-7},{"s":18,"f":2.8,"v":2.5e-7},{"s":18,"f":3,"v":1.9e-7},{"s":18,"f":3.2,"v":1.5e-7},
{"s":18,"f":3.5,"v":1.4e-7},{"s":18,"f":3.75,"v":1e-7},{"s":18,"f":4,"v":1e-7},{"s":18,"f":4.25,"v":7e-8},{"s":18,"f":4.5,"v":7e-8},{"s":18,"f":4.75,"v":5e-8},{"s":18,"f":5,"v":5.2e-8},{"s":18,"f":5.25,"v":3.6e-8},{"s":18,"f":5.5,"v":3.6e-8},{"s":18,"f":5.75,"v":2.5e-8},{"s":18,"f":6,"v":2.6e-8},{"s":18,"f":6.25,"v":1.8e-8},{"s":18,"f":6.5,"v":2e-8},{"s":18,"f":6.75,"v":1.4e-8},{"s":18,"f":7,"v":1.5e-8},{"s":18,"f":7.25,"v":1.1e-8},{"s":18,"f":7.5,"v":1.25e-8},{"s":18,"f":7.75,"v":9e-9},{"s":18,"f":8,"v":1e-8},{"s":18,"f":8.25,"v":7e-9},{"s":18,"f":8.5,"v":8e-9},{"s":18,"f":8.75,"v":5.5e-9},{"s":18,"f":9,"v":6.5e-9},{"s":18,"f":9.25,"v":4.5e-9},{"s":18,"f":9.5,"v":5.5e-9},{"s":18,"f":9.75,"v":4e-9},{"s":18,"f":10,"v":3e-9},

{"s":19,"f":0.0794,"v":2.1e-4},{"s":19,"f":0.1,"v":2.1e-4},{"s":19,"f":0.2,"v":1.6e-4},{"s":19,"f":0.3,"v":9e-5},{"s":19,"f":0.4,"v":5.2e-5},{"s":19,"f":0.5,"v":3.8e-5},{"s":19,"f":0.6,"v":2.8e-5},{"s":19,"f":0.7,"v":2.2e-5},{"s":19,"f":0.8,"v":1.8e-5},{"s":19,"f":0.9,"v":1.35e-5},{"s":19,"f":1,"v":9e-6},
{"s":19,"f":1.2,"v":5e-6},{"s":19,"f":1.4,"v":3e-6},{"s":19,"f":1.6,"v":2e-6},{"s":19,"f":1.8,"v":1.35e-6},{"s":19,"f":2,"v":9.5e-7},{"s":19,"f":2.2,"v":7e-7},{"s":19,"f":2.4,"v":5.2e-7},{"s":19,"f":2.6,"v":3.9e-7},{"s":19,"f":2.8,"v":3e-7},{"s":19,"f":3,"v":2.4e-7},{"s":19,"f":3.2,"v":1.9e-7},
{"s":19,"f":3.5,"v":1.6e-7},{"s":19,"f":3.75,"v":1.2e-7},{"s":19,"f":4,"v":1.1e-7},{"s":19,"f":4.25,"v":8e-8},{"s":19,"f":4.5,"v":8e-8},{"s":19,"f":4.75,"v":5.8e-8},{"s":19,"f":5,"v":5.8e-8},{"s":19,"f":5.25,"v":4e-8},{"s":19,"f":5.5,"v":4.2e-8},{"s":19,"f":5.75,"v":2.8e-8},{"s":19,"f":6,"v":3e-8},{"s":19,"f":6.25,"v":2.1e-8},{"s":19,"f":6.5,"v":2.2e-8},{"s":19,"f":6.75,"v":1.6e-8},{"s":19,"f":7,"v":1.7e-8},{"s":19,"f":7.25,"v":1.3e-8},{"s":19,"f":7.5,"v":1.4e-8},{"s":19,"f":7.75,"v":1e-8},{"s":19,"f":8,"v":1.2e-8},{"s":19,"f":8.25,"v":8.5e-9},{"s":19,"f":8.5,"v":9.5e-9},{"s":19,"f":8.75,"v":7e-9},{"s":19,"f":9,"v":8e-9},{"s":19,"f":9.25,"v":6e-9},{"s":19,"f":9.5,"v":6.8e-9},{"s":19,"f":9.75,"v":5e-9},{"s":19,"f":10,"v":5.5e-9},

{"s":20,"f":0.0794,"v":2.3e-4},{"s":20,"f":0.1,"v":2.3e-4},{"s":20,"f":0.2,"v":1.8e-4},{"s":20,"f":0.3,"v":9.5e-5},{"s":20,"f":0.4,"v":5.8e-5},{"s":20,"f":0.5,"v":4e-5},{"s":20,"f":0.6,"v":3e-5},{"s":20,"f":0.7,"v":2.3e-5},{"s":20,"f":0.8,"v":1.8e-5},{"s":20,"f":0.9,"v":1.4e-5},{"s":20,"f":1,"v":9.5e-6},
{"s":20,"f":1.2,"v":5.5e-6},{"s":20,"f":1.4,"v":3.3e-6},{"s":20,"f":1.6,"v":2.2e-6},{"s":20,"f":1.8,"v":1.5e-6},{"s":20,"f":2,"v":1.05e-6},{"s":20,"f":2.2,"v":7.7e-7},{"s":20,"f":2.4,"v":5.7e-7},{"s":20,"f":2.6,"v":4.3e-7},{"s":20,"f":2.8,"v":3.3e-7},{"s":20,"f":3,"v":2.6e-7},{"s":20,"f":3.2,"v":2.1e-7},
{"s":20,"f":3.5,"v":1.8e-7},{"s":20,"f":3.75,"v":1.45e-7},{"s":20,"f":4,"v":1.2e-7},{"s":20,"f":4.25,"v":1e-7},{"s":20,"f":4.5,"v":8.8e-8},{"s":20,"f":4.75,"v":7e-8},{"s":20,"f":5,"v":6.2e-8},{"s":20,"f":5.25,"v":5e-8},{"s":20,"f":5.5,"v":4.4e-8},{"s":20,"f":5.75,"v":3.6e-8},{"s":20,"f":6,"v":3.2e-8},{"s":20,"f":6.25,"v":2.6e-8},{"s":20,"f":6.5,"v":2.4e-8},{"s":20,"f":6.75,"v":2e-8},{"s":20,"f":7,"v":1.9e-8},{"s":20,"f":7.25,"v":1.6e-8},{"s":20,"f":7.5,"v":1.5e-8},{"s":20,"f":7.75,"v":1.3e-8},{"s":20,"f":8,"v":1.25e-8},{"s":20,"f":8.25,"v":1.1e-8},{"s":20,"f":8.5,"v":1.05e-8},{"s":20,"f":8.75,"v":9e-9},{"s":20,"f":9,"v":9e-9},{"s":20,"f":9.25,"v":8e-9},{"s":20,"f":9.5,"v":7.8e-9},{"s":20,"f":9.75,"v":7e-9},{"s":20,"f":10,"v":6.5e-9},

{"s":21,"f":0.0794,"v":2.5e-4},{"s":21,"f":0.1,"v":2.5e-4},{"s":21,"f":0.2,"v":1.8e-4},{"s":21,"f":0.3,"v":1e-4},{"s":21,"f":0.4,"v":6.3e-5},{"s":21,"f":0.5,"v":4.2e-5},{"s":21,"f":0.6,"v":3.1e-5},{"s":21,"f":0.7,"v":2.4e-5},{"s":21,"f":0.8,"v":1.9e-5},{"s":21,"f":0.9,"v":1.45e-5},{"s":21,"f":1,"v":1e-5},
{"s":21,"f":1.2,"v":6e-6},{"s":21,"f":1.4,"v":3.6e-6},{"s":21,"f":1.6,"v":2.4e-6},{"s":21,"f":1.8,"v":1.6e-6},{"s":21,"f":2,"v":1.15e-6},{"s":21,"f":2.2,"v":8.4e-7},{"s":21,"f":2.4,"v":6.2e-7},{"s":21,"f":2.6,"v":4.7e-7},{"s":21,"f":2.8,"v":3.6e-7},{"s":21,"f":3,"v":2.9e-7},{"s":21,"f":3.2,"v":2.3e-7},
{"s":21,"f":3.5,"v":2e-7},{"s":21,"f":3.75,"v":1.65e-7},{"s":21,"f":4,"v":1.38e-7},{"s":21,"f":4.25,"v":1.15e-7},{"s":21,"f":4.5,"v":9.7e-8},{"s":21,"f":4.75,"v":8.2e-8},{"s":21,"f":5,"v":6.9e-8},{"s":21,"f":5.25,"v":5.8e-8},{"s":21,"f":5.5,"v":4.9e-8},{"s":21,"f":5.75,"v":4.2e-8},{"s":21,"f":6,"v":3.6e-8},{"s":21,"f":6.25,"v":3.1e-8},{"s":21,"f":6.5,"v":2.7e-8},{"s":21,"f":6.75,"v":2.4e-8},{"s":21,"f":7,"v":2.1e-8},{"s":21,"f":7.25,"v":1.9e-8},{"s":21,"f":7.5,"v":1.7e-8},{"s":21,"f":7.75,"v":1.55e-8},{"s":21,"f":8,"v":1.4e-8},{"s":21,"f":8.25,"v":1.3e-8},{"s":21,"f":8.5,"v":1.2e-8},{"s":21,"f":8.75,"v":1.1e-8},{"s":21,"f":9,"v":1e-8},{"s":21,"f":9.25,"v":9.5e-9},{"s":21,"f":9.5,"v":9e-9},{"s":21,"f":9.75,"v":8.5e-9},{"s":21,"f":10,"v":8e-9}
]},
"layer": [
{
"mark": {"type": "line", "strokeWidth": 2, "clip": true},
"encoding": {
"x": {"field": "f", "type": "quantitative", "scale": {"type": "log", "domain": [0.0794, 12.59], "nice": false},
 "axis": {"orient": "bottom", "values": [0.1, 1, 10], "labelExpr": "'10'", "title": "frequency[Hz]", "titleFontSize": 24, "titleFontWeight": "normal", "titleColor": "#262626", "titleFont": "Liberation Sans", "titlePadding": 8,
  "labelFont": "Liberation Sans", "labelFontSize": 19, "labelColor": "#262626", "labelPadding": 19, "labelOffset": -5, "labelFlush": false, "labelOverlap": false,
  "tickSize": 6, "tickColor": "#555555", "tickWidth": 1, "grid": true, "gridColor": "#d6d6d6", "gridWidth": 1, "domain": false}},
"y": {"field": "v", "type": "quantitative", "scale": {"type": "log", "domain": [1.4e-9, 4.49e-4], "nice": false},
 "axis": {"orient": "left", "values": [1e-8, 1e-7, 1e-6, 1e-5, 1e-4], "labelExpr": "'10'", "title": "depth ASD [m/rtHz]", "titleFontSize": 24, "titleFontWeight": "normal", "titleColor": "#262626", "titleFont": "Liberation Sans", "titlePadding": 8,
  "labelFont": "Liberation Sans", "labelFontSize": 19, "labelColor": "#262626", "labelPadding": 28, "labelOffset": 9, "labelFlush": false, "labelOverlap": false,
  "tickSize": 6, "tickColor": "#555555", "tickWidth": 1, "grid": true, "gridColor": "#d6d6d6", "gridWidth": 1, "domain": false}},
"color": {"field": "s", "type": "ordinal", "scale": {"scheme": "viridis"}, "legend": null}
}
},
{
"mark": {"type": "line", "opacity": 0, "strokeOpacity": 0},
"encoding": {
"x": {"field": "f", "type": "quantitative", "scale": {"type": "log", "domain": [0.0794, 12.59], "nice": false},
 "axis": {"orient": "bottom", "values": [0.09, 0.2, 0.3, 0.4, 0.5, 0.6, 0.7, 0.8, 0.9, 2, 3, 4, 5, 6, 7, 8, 9, 11, 12], "labels": false, "title": null, "tickSize": 3.5, "tickColor": "#555555", "tickWidth": 1, "grid": false, "domain": false}},
"y": {"field": "v", "type": "quantitative", "scale": {"type": "log", "domain": [1.4e-9, 4.49e-4], "nice": false},
 "axis": {"orient": "left", "values": [2e-9,3e-9,4e-9,5e-9,6e-9,7e-9,8e-9,9e-9,2e-8,3e-8,4e-8,5e-8,6e-8,7e-8,8e-8,9e-8,2e-7,3e-7,4e-7,5e-7,6e-7,7e-7,8e-7,9e-7,2e-6,3e-6,4e-6,5e-6,6e-6,7e-6,8e-6,9e-6,2e-5,3e-5,4e-5,5e-5,6e-5,7e-5,8e-5,9e-5,2e-4,3e-4,4e-4], "labels": false, "title": null, "tickSize": 3.5, "tickColor": "#555555", "tickWidth": 1, "grid": false, "domain": false}}
}
},
{
"mark": {"type": "line", "opacity": 0, "strokeOpacity": 0},
"encoding": {
"x": {"field": "f", "type": "quantitative", "scale": {"type": "log", "domain": [0.0794, 12.59], "nice": false},
 "axis": {"orient": "bottom", "values": [0.1, 1, 10], "labelExpr": "datum.value < 0.5 ? '−1' : datum.value < 5 ? '0' : '1'", "title": null, "ticks": false, "tickSize": 0, "grid": false, "domain": false,
  "labelFont": "Liberation Sans", "labelFontSize": 13, "labelColor": "#262626", "labelAlign": "left", "labelPadding": 15, "labelOffset": 6, "labelFlush": false, "labelOverlap": false}},
"y": {"field": "v", "type": "quantitative", "scale": {"type": "log", "domain": [1.4e-9, 4.49e-4], "nice": false},
 "axis": {"orient": "left", "values": [1e-8, 1e-7, 1e-6, 1e-5, 1e-4], "labelExpr": "datum.value < 5e-8 ? '−8' : datum.value < 5e-7 ? '−7' : datum.value < 5e-6 ? '−6' : datum.value < 5e-5 ? '−5' : '−4'", "title": null, "ticks": false, "tickSize": 0, "grid": false, "domain": false,
  "labelFont": "Liberation Sans", "labelFontSize": 13, "labelColor": "#262626", "labelAlign": "left", "labelPadding": 32, "labelOffset": 0, "labelFlush": false, "labelOverlap": false}}
}
}
],
"resolve": {"axis": {"x": "independent", "y": "independent"}}
}
